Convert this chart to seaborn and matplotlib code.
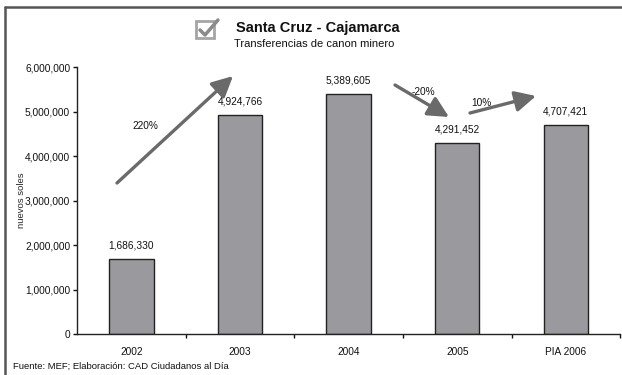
import matplotlib
matplotlib.use("Agg")
import matplotlib.pyplot as plt
import seaborn as sns
import pandas as pd
from matplotlib.ticker import FuncFormatter, FixedLocator
from matplotlib.lines import Line2D
from matplotlib.patches import Rectangle, FancyArrowPatch

categories = ["2002", "2003", "2004", "2005", "PIA 2006"]
values = [1686330, 4924766, 5389605, 4291452, 4707421]
changes = ["220%", "-20%", "10%"]

sns.set_style("white")
plt.rcParams['font.family'] = ['Liberation Sans', 'DejaVu Sans']

df = pd.DataFrame({"year": categories, "value": values})

fig = plt.figure(figsize=(6.22, 3.75), dpi=100)
ax = fig.add_axes([0.124, 0.109, 0.873, 0.712])

sns.barplot(data=df, x="year", y="value", color="#9a9a9e", width=0.41,
            edgecolor="#222222", linewidth=1.0, saturation=1, ax=ax)

ax.set_xlim(-0.5, 4.5)
ax.set_ylim(0, 6000000)
ax.set_yticks(range(0, 6000001, 1000000))
ax.yaxis.set_major_formatter(FuncFormatter(lambda v, p: f"{int(v):,}"))
ax.tick_params(axis='y', labelsize=7.3, length=3, width=1, direction='out', left=True, pad=2, colors='#111111')
ax.tick_params(axis='x', which='major', labelsize=7.3, length=0, pad=9, colors='#111111')
ax.xaxis.set_minor_locator(FixedLocator([0.5, 1.5, 2.5, 3.5, 4.5]))
ax.tick_params(axis='x', which='minor', length=3, width=1, direction='out', bottom=True, color='#111111')
ax.set_xlabel("")
ax.set_ylabel("nuevos soles", fontsize=6.8, labelpad=6)
ax.yaxis.set_label_coords(-0.095, 0.5)
for s in ["top", "right"]:
    ax.spines[s].set_visible(False)
for s in ["left", "bottom"]:
    ax.spines[s].set_color("#222222")
    ax.spines[s].set_linewidth(1.0)

for i, v in enumerate(values):
    ax.annotate(f"{v:,}", (i, v), xytext=(0, 6), textcoords="offset points",
                ha="center", va="bottom", fontsize=7.3, color="#111111")

W, H = 622, 375
def fp(x, y):
    return (x / W, 1 - y / H)

arrow_kw = dict(arrowstyle="-|>,head_length=0.9,head_width=0.45", color="#6a6a6a", lw=2.4,
                shrinkA=0, shrinkB=0, mutation_scale=14)
arrows = [((117, 183), (233, 76)), ((395, 85), (449, 117)), ((470, 113), (536, 96))]
labels_pos = [(145, 126), (423, 92), (481, 103)]
for (p0, p1), lab, lp in zip(arrows, changes, labels_pos):
    fig.add_artist(FancyArrowPatch(fp(*p0), fp(*p1), transform=fig.transFigure, **arrow_kw))
    fig.text(*fp(*lp), lab, ha="center", va="center", fontsize=7.3, color="#111111")

fig.text(*fp(318, 28), "Santa Cruz - Cajamarca", ha="center", va="center", fontsize=10.5,
         fontweight="bold", color="#111111")
fig.text(*fp(314, 44), "Transferencias de canon minero", ha="center", va="center", fontsize=8,
         color="#111111")
fig.add_artist(Rectangle(fp(196, 38), 18 / W, 17 / H, transform=fig.transFigure,
                         fill=False, edgecolor="#a5a5a5", lw=2))
fig.add_artist(Line2D([200 / W, 205 / W, 218 / W], [1 - 30 / H, 1 - 35 / H, 1 - 20 / H],
                      transform=fig.transFigure, color="#8a8a8a", lw=2.5))

fig.text(*fp(13, 366), "Fuente: MEF; Elaboración: CAD Ciudadanos al Día", ha="left", va="center",
         fontsize=6.8, color="#111111")

fig.add_artist(Line2D([5 / W, 5 / W], [0, 1 - 7 / H], transform=fig.transFigure, color="#555555", lw=1.8))
fig.add_artist(Line2D([5 / W, 1], [1 - 7 / H, 1 - 7 / H], transform=fig.transFigure, color="#555555", lw=1.8))

fig.savefig("out.png", dpi=100)
